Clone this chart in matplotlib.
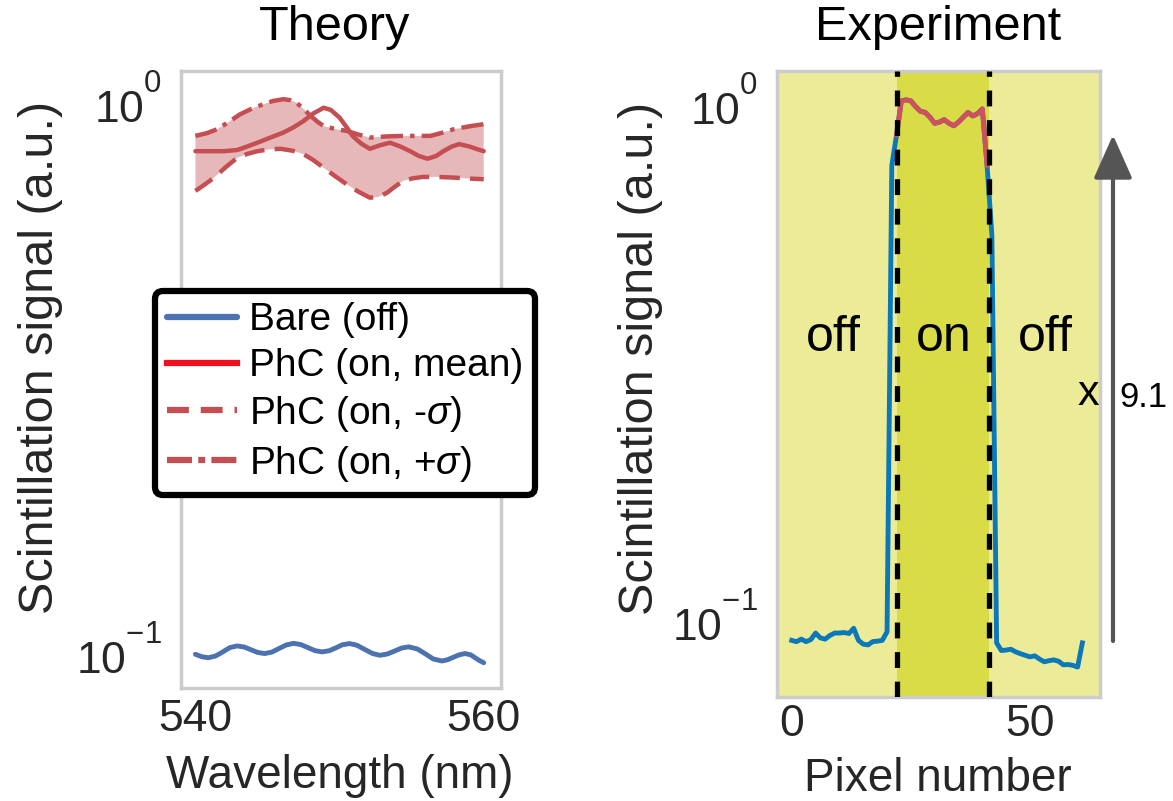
import numpy as np
import matplotlib
matplotlib.use("Agg")
import matplotlib.pyplot as plt
from matplotlib.lines import Line2D
from matplotlib.patches import FancyArrowPatch
from matplotlib.ticker import LogLocator, NullLocator, NullFormatter, LogFormatterSciNotation

plt.rcParams['font.family'] = ['Liberation Sans', 'DejaVu Sans']
plt.rcParams['mathtext.fontset'] = 'custom'
plt.rcParams['mathtext.rm'] = 'Liberation Sans'
plt.rcParams['mathtext.it'] = 'Liberation Sans:italic'
plt.rcParams['mathtext.bf'] = 'Liberation Sans:bold'
try:
    from matplotlib import _mathtext
    _mathtext.FontConstantsBase.sup1 = 1.25
except Exception:
    pass

# ---------------- data: Theory ----------------
bare_wl = [540.0, 540.45, 540.9, 541.4, 541.9, 542.4, 542.9, 543.4, 543.85, 544.3,
           544.8, 545.3, 545.8, 546.3, 546.8, 547.3, 547.8, 548.3, 548.8, 549.3,
           549.75, 550.2, 550.7, 551.2, 551.75, 552.3, 552.8, 553.3, 553.8, 554.3,
           554.8, 555.4, 555.95, 556.5, 557.1, 557.5, 557.9, 558.3, 558.7, 559.1,
           559.4, 559.7, 560.0]
bare_sig = [0.0982, 0.0972, 0.0968, 0.0975, 0.0992, 0.1010, 0.1017, 0.1012, 0.1001, 0.0990,
            0.0985, 0.0991, 0.1006, 0.1021, 0.1028, 0.1023, 0.1010, 0.0997, 0.0992, 0.0997,
            0.1009, 0.1022, 0.1027, 0.1020, 0.1002, 0.0985, 0.0978, 0.0983, 0.0995, 0.1008,
            0.1013, 0.1004, 0.0984, 0.0963, 0.0955, 0.0960, 0.0970, 0.0980, 0.0985, 0.0980,
            0.0968, 0.0957, 0.0948]

mean_wl = [540.0, 541.0, 542.0, 542.9, 543.6, 544.3, 545.2, 546.1, 546.8, 547.5,
           548.2, 548.9, 549.4, 550.0, 550.5, 550.9, 551.5, 552.1, 552.8, 553.5,
           554.2, 554.9, 555.5, 556.1, 556.7, 557.2, 557.8, 558.3, 559.0, 559.6, 560.0]
mean_sig = [0.804, 0.804, 0.804, 0.808, 0.820, 0.833, 0.851, 0.869, 0.888, 0.912,
            0.942, 0.964, 0.955, 0.925, 0.888, 0.857, 0.830, 0.812, 0.824, 0.833,
            0.820, 0.804, 0.788, 0.779, 0.788, 0.804, 0.820, 0.828, 0.820, 0.810, 0.804]

up_wl = [540.0, 540.8, 541.5, 542.3, 543.1, 543.9, 544.7, 545.4, 546.1, 546.6,
         547.0, 547.5, 548.0, 548.5, 548.9, 549.7, 550.5, 551.3, 552.1, 553.2,
         554.4, 555.3, 556.3, 557.1, 557.9, 559.0, 560.0]
up_sig = [0.857, 0.867, 0.881, 0.908, 0.938, 0.960, 0.978, 0.992, 0.999, 0.995,
          0.985, 0.960, 0.931, 0.908, 0.893, 0.882, 0.875, 0.862, 0.851, 0.855,
          0.857, 0.857, 0.857, 0.868, 0.881, 0.892, 0.900]

lo_wl = [540.0, 540.6, 541.3, 542.1, 542.9, 543.6, 544.3, 545.1, 545.9, 546.7,
         547.5, 548.2, 548.9, 549.7, 550.5, 551.3, 552.1, 552.7, 553.3, 553.9,
         554.4, 555.1, 555.8, 556.8, 557.9, 559.0, 560.0]
lo_sig = [0.681, 0.698, 0.720, 0.752, 0.782, 0.795, 0.804, 0.810, 0.812, 0.806,
          0.794, 0.774, 0.750, 0.724, 0.700, 0.679, 0.662, 0.664, 0.676, 0.695,
          0.710, 0.718, 0.722, 0.722, 0.720, 0.717, 0.715]

# ---------------- data: Experiment ----------------
exp_signal = [0.0900, 0.0895, 0.0905, 0.0895, 0.0903, 0.0930, 0.0910, 0.0905, 0.0920, 0.0930,
              0.0930, 0.0932, 0.0928, 0.0950, 0.0900, 0.0885, 0.0882, 0.0895, 0.0897, 0.0900,
              0.0935, 0.7500, 0.8600, 1.0000, 1.0050, 1.0000, 0.9750, 0.9550, 0.9500, 0.9300,
              0.9050, 0.9100, 0.9200, 0.9050, 0.8950, 0.9100, 0.9300, 0.9500, 0.9350, 0.9450,
              0.9650, 0.7500, 0.5500, 0.0890, 0.0860, 0.0862, 0.0865, 0.0855, 0.0848, 0.0842,
              0.0836, 0.0840, 0.0828, 0.0818, 0.0822, 0.0825, 0.0820, 0.0807, 0.0808, 0.0805,
              0.0799, 0.0890]
on_first, on_last = 22, 41          # red (on) segment, pixel indices
on_bounds = [22, 41.5]              # dashed boundaries of the "on" region
enhancement_label = "9.1"

# ---------------- figure ----------------
W, H = 1173, 801
fig = plt.figure(figsize=(W / 100, H / 100), dpi=100)

axL = fig.add_axes([181 / W, 1 - 688 / H, 320 / W, 617 / H])
axR = fig.add_axes([777 / W, 1 - 697 / H, 323 / W, 626 / H])

blueL = '#4C72B0'
redL = '#C44E52'
blueR = '#0a78b9'
redR = '#d0505e'
off_col = '#ebeb98'
on_col = '#d9dc46'
spine_col = '#cccccc'
txt_col = '#262626'

TICK_FS = 32
LABEL_FS = 33
TITLE_FS = 35

# ---- Theory ----
fill_x = np.concatenate([up_wl, lo_wl[::-1]])
fill_y = np.concatenate([up_sig, lo_sig[::-1]])
axL.fill(fill_x, fill_y, color=redL, alpha=0.4, lw=0)
axL.plot(bare_wl, bare_sig, color=blueL, lw=3.5, solid_capstyle='round')
axL.plot(mean_wl, mean_sig, color=redL, lw=3.2, solid_capstyle='round')
axL.plot(lo_wl, lo_sig, color=redL, lw=3.2, dashes=[4.6, 2.3])
axL.plot(up_wl, up_sig, color=redL, lw=3.2, dashes=[5.0, 1.6, 1.0, 1.6])

axL.set_yscale('log')
axL.set_xlim(539, 561.2)
axL.set_ylim(0.0853, 1.124)
axL.set_xticks([540, 560])

# ---- Experiment ----
pix = np.arange(len(exp_signal))
axR.set_facecolor(off_col)
axR.axvspan(on_bounds[0], on_bounds[1], color=on_col, lw=0, zorder=0)
axR.plot(pix, exp_signal, color=blueR, lw=3.5, zorder=2)
axR.plot(pix[on_first:on_last + 1], exp_signal[on_first:on_last + 1], color=redR, lw=3.5, zorder=3)
for xb in on_bounds:
    axR.axvline(xb, color='black', lw=3.8, dashes=[3.0, 2.6], zorder=4)
axR.set_yscale('log')
axR.set_xlim(-3.1, 64.7)
axR.set_ylim(0.0699, 1.143)
axR.set_xticks([0, 50])

for xf, s in [(0.173, 'off'), (0.517, 'on'), (0.83, 'off')]:
    axR.text(xf, 0.573, s, transform=axR.transAxes, ha='center', va='center', fontsize=36,
             color='black')

for ax in (axL, axR):
    ax.yaxis.set_major_locator(LogLocator(base=10, numticks=10))
    ax.yaxis.set_major_formatter(LogFormatterSciNotation())
    ax.yaxis.set_minor_locator(NullLocator())
    ax.yaxis.set_minor_formatter(NullFormatter())
    ax.tick_params(axis='both', which='both', length=0, labelsize=TICK_FS, colors=txt_col)
    ax.tick_params(axis='y', pad=14)
    for s in ax.spines.values():
        s.set_color(spine_col)
        s.set_linewidth(2.5)
    ax.grid(False)
axL.tick_params(axis='x', pad=8)
axR.tick_params(axis='x', pad=5)

# labels
axL.set_ylabel('Scintillation signal (a.u.)', fontsize=35, va='center', color=txt_col)
axL.yaxis.set_label_coords(-0.44, 0.536)
axR.set_ylabel('Scintillation signal (a.u.)', fontsize=35, va='center', color=txt_col)
axR.yaxis.set_label_coords(-0.424, 0.5415)
axL.set_xlabel('Wavelength (nm)', fontsize=LABEL_FS, va='center', color=txt_col)
axL.xaxis.set_label_coords(0.497, -0.142)
axR.set_xlabel('Pixel number', fontsize=LABEL_FS, va='center', color=txt_col)
axR.xaxis.set_label_coords(0.498, -0.131)

axL.text(0.48, 1.0697, 'Theory', transform=axL.transAxes, ha='center', va='center',
         fontsize=TITLE_FS, color='black')
axR.text(0.5, 1.0687, 'Experiment', transform=axR.transAxes, ha='center', va='center',
         fontsize=TITLE_FS, color='black')

# legend
handles = [
    Line2D([], [], color=blueL, lw=4.5, solid_capstyle='round'),
    Line2D([], [], color='#f0101e', lw=4.5),
    Line2D([], [], color=redL, lw=4.5, dashes=[3.5, 1.9]),
    Line2D([], [], color=redL, lw=4.5, dashes=[4.0, 1.0, 1.1, 1.0]),
]
labels = ['Bare (off)', 'PhC (on, mean)', r'PhC (on, -$\sigma$)', r'PhC (on, +$\sigma$)']
leg = fig.legend(handles, labels, loc='center', bbox_to_anchor=(345 / W, 1 - 393 / H),
                 bbox_transform=fig.transFigure, fontsize=28, frameon=True, fancybox=True,
                 handlelength=1.8, handletextpad=0.3, labelspacing=0.25, borderpad=0.3)
fr = leg.get_frame()
fr.set_edgecolor('black')
fr.set_linewidth(4.5)
fr.set_facecolor('white')
fr.set_alpha(1)

# enhancement arrow
fig.add_artist(FancyArrowPatch(
    posA=(1113 / W, 1 - 641 / H), posB=(1113 / W, 1 - 135 / H), transform=fig.transFigure,
    arrowstyle='-|>,head_length=0.45,head_width=0.2', mutation_scale=60,
    color='#555555', lw=3, shrinkA=0, shrinkB=0))
fig.text(1088 / W, 1 - 405 / H, 'x', ha='center', va='baseline', fontsize=31, color='black')
fig.text(1119 / W, 1 - 407 / H, enhancement_label, ha='left', va='baseline', fontsize=25,
         color='black')

fig.savefig('out.png', dpi=100)
